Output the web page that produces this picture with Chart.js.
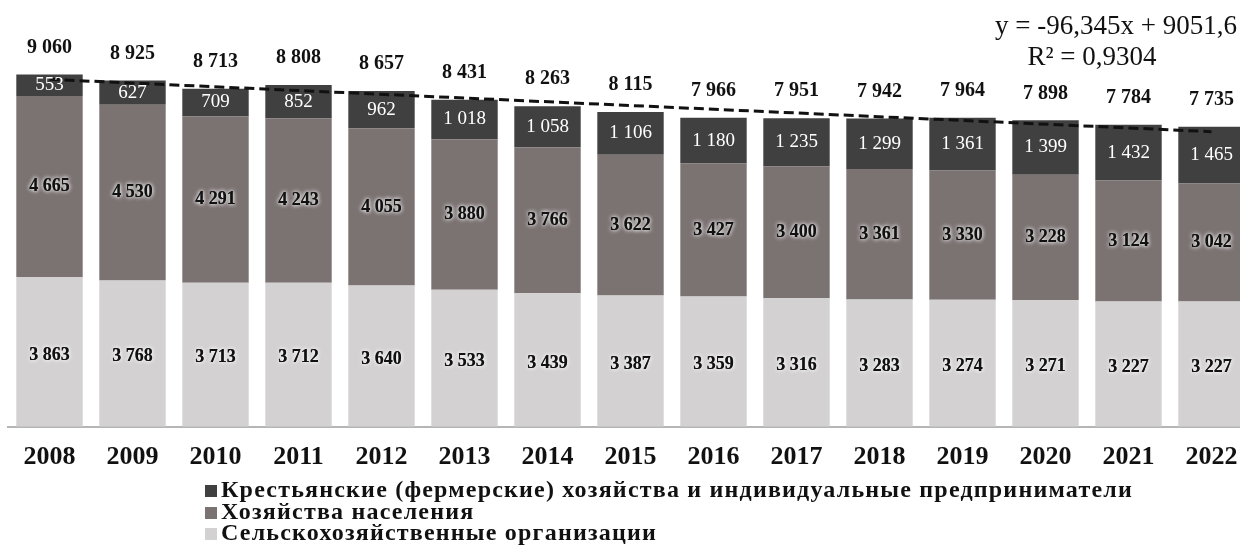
<!DOCTYPE html>
<html>
<head>
<meta charset="utf-8">
<script src="https://cdn.jsdelivr.net/npm/chart.js@4"></script>
<style>
  html, body { margin: 0; padding: 0; background: #fff; overflow: hidden; }
  #wrap { position: relative; width: 1253px; height: 554px; }
  #chart { position: absolute; left: 0; top: 0; }
  #legend { position: absolute; left: 205px; top: 478px; font-family: "Liberation Serif", serif; font-weight: bold; font-size: 24px; letter-spacing: 1.2px; color: #111; }
  #legend div { height: 21.5px; line-height: 22px; white-space: nowrap; }
  #legend span { display: inline-block; width: 12px; height: 12px; margin-right: 4px; }
</style>
</head>
<body>
<div id="wrap">
  <canvas id="chart" width="1253" height="488"></canvas>
  <div id="legend"></div>
</div>
<script>
const years = ['2008', '2009', '2010', '2011', '2012', '2013', '2014', '2015', '2016', '2017', '2018', '2019', '2020', '2021', '2022'];
const orgs = [3863, 3768, 3713, 3712, 3640, 3533, 3439, 3387, 3359, 3316, 3283, 3274, 3271, 3227, 3227];
const households = [4665, 4530, 4291, 4243, 4055, 3880, 3766, 3622, 3427, 3400, 3361, 3330, 3228, 3124, 3042];
const farms = [553, 627, 709, 852, 962, 1018, 1058, 1106, 1180, 1235, 1299, 1361, 1399, 1432, 1465];
const totals = [9060, 8925, 8713, 8808, 8657, 8431, 8263, 8115, 7966, 7951, 7942, 7964, 7898, 7784, 7735];
// trend line read at first and last year
const trendEnds = [8955, 7606];

const fmt = v => String(v).replace(/\B(?=(\d{3})+(?!\d))/g, ' ');

const trendData = years.map((y, i) => i === 0 ? trendEnds[0] : (i === years.length - 1 ? trendEnds[1] : null));

const labelsPlugin = {
  id: 'labelsPlugin',
  afterDatasetsDraw(chart) {
    const ctx = chart.ctx;
    ctx.save();
    ctx.textAlign = 'center';
    ctx.textBaseline = 'middle';
    [0, 1, 2].forEach(di => {
      const meta = chart.getDatasetMeta(di);
      const vals = chart.data.datasets[di].data;
      meta.data.forEach((bar, i) => {
        const cy = (bar.y + bar.base) / 2 + (di === 0 ? 3 : 0);
        const txt = fmt(vals[i]);
        if (di === 2) {
          ctx.shadowBlur = 0;
          ctx.font = '19px "Liberation Serif"';
          ctx.fillStyle = '#fff';
          ctx.fillText(txt, bar.x, cy);
        } else {
          ctx.font = 'bold 18px "Liberation Serif"';
          ctx.shadowColor = 'rgba(255,255,255,0.9)';
          ctx.shadowBlur = 4;
          ctx.fillStyle = '#111';
          ctx.fillText(txt, bar.x, cy);
          ctx.fillText(txt, bar.x, cy);
        }
      });
    });
    ctx.shadowBlur = 0;
    // totals above the bars
    const top = chart.getDatasetMeta(2);
    ctx.font = 'bold 20px "Liberation Serif"';
    ctx.fillStyle = '#111';
    top.data.forEach((bar, i) => {
      ctx.fillText(fmt(totals[i]), bar.x, bar.y - 27);
    });
    // trend equation
    ctx.font = '27px "Liberation Serif"';
    ctx.textAlign = 'right';
    ctx.fillText('y = -96,345x + 9051,6', 1237, 27);
    ctx.textAlign = 'center';
    ctx.fillText('R² = 0,9304', 1092, 58);
    ctx.restore();
  }
};

const colors = ['#d3d1d1', '#7b7272', '#404040'];

new Chart(document.getElementById('chart'), {
  type: 'bar',
  data: {
    labels: years,
    datasets: [
      { label: 'Сельскохозяйственные организации', data: orgs, backgroundColor: colors[0], stack: 's', order: 1 },
      { label: 'Хозяйства населения', data: households, backgroundColor: colors[1], stack: 's', order: 1 },
      { label: 'Крестьянские (фермерские) хозяйства и индивидуальные предприниматели', data: farms, backgroundColor: colors[2], stack: 's', order: 1 },
      { type: 'line', label: 'trend', data: trendData, stack: 'trend', order: 0, spanGaps: true,
        borderColor: '#111', borderWidth: 3, borderDash: [10, 5], pointRadius: 0, fill: false }
    ]
  },
  options: {
    responsive: false,
    animation: false,
    layout: { padding: { left: 8, right: 0, top: 0, bottom: 0 } },
    plugins: { legend: { display: false }, tooltip: { enabled: false } },
    scales: {
      x: {
        stacked: true,
        grid: { display: false, drawTicks: false },
        border: { display: true, color: '#b5b5b5', width: 2 },
        ticks: { padding: 15, color: '#111', font: { family: 'Liberation Serif', size: 26, weight: 'bold' } }
      },
      y: { stacked: true, display: false, min: 0, max: 11000 }
    },
    datasets: { bar: { barPercentage: 0.8, categoryPercentage: 1 } }
  },
  plugins: [labelsPlugin]
});

// legend, top row is the top segment
const legend = document.getElementById('legend');
[2, 1, 0].forEach(i => {
  const row = document.createElement('div');
  row.innerHTML = `<span style="background:${colors[i]}"></span>${['Сельскохозяйственные организации', 'Хозяйства населения', 'Крестьянские (фермерские) хозяйства и индивидуальные предприниматели'][i]}`;
  legend.appendChild(row);
});
</script>
</body>
</html>
